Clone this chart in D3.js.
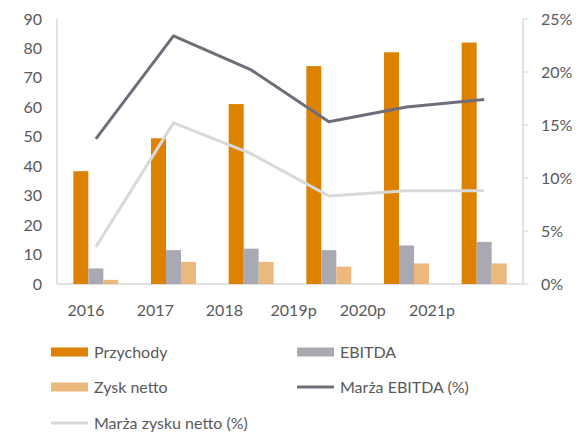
<!DOCTYPE html>
<html><head><meta charset="utf-8">
<script src="https://cdn.jsdelivr.net/npm/d3@7"></script>
<style>
html,body{margin:0;padding:0;background:#fff;}
text{font-family:Lato,"Open Sans",sans-serif;fill:#595959;}
</style></head>
<body><svg id="c" width="587" height="432"></svg>
<script>
const categories = ["2016","2017","2018","2019p","2020p","2021p"];
const przychody = [38.3, 49.5, 61.1, 74.0, 78.7, 82.0];
const ebitda = [5.3, 11.5, 12.0, 11.5, 13.1, 14.3];
const zysk = [1.4, 7.5, 7.5, 5.9, 7.0, 7.0];
const marzaEbitda = [13.7, 23.4, 20.2, 15.3, 16.7, 17.4];
const marzaZysku = [3.5, 15.2, 12.3, 8.3, 8.8, 8.8];
const leftTicks = [0,10,20,30,40,50,60,70,80,90];
const rightTicks = [0,5,10,15,20,25];
const barSeries = ["Przychody","EBITDA","Zysk netto"];

const colors = {Przychody:"#DD8100", EBITDA:"#A9A9B3", "Zysk netto":"#EBB97E",
  "Marża EBITDA (%)":"#6E6E7A", "Marża zysku netto (%)":"#D9D9D9"};

const svg = d3.select("#c");
const L = 57, R = 523, T = 19, B = 284;
const x = d3.scaleBand().domain(categories).range([L, R]).padding(0);
const xs = d3.scaleBand().domain(barSeries).range([0, 45]).padding(0);
const y = d3.scaleLinear().domain([0, 90]).range([B, T]);
const y2 = d3.scaleLinear().domain([0, 25]).range([B, T]);
const xLabel = d3.scalePoint().domain(categories).range([86, 432]);

// axes lines
const axisColor = "#D9D9D9";
svg.append("line").attr("x1", L).attr("x2", L).attr("y1", T).attr("y2", B).attr("stroke", axisColor).attr("stroke-width", 1.5);
svg.append("line").attr("x1", R).attr("x2", R).attr("y1", T).attr("y2", B).attr("stroke", axisColor).attr("stroke-width", 1.5);
svg.append("line").attr("x1", L).attr("x2", R).attr("y1", B).attr("y2", B).attr("stroke", axisColor).attr("stroke-width", 1.5);
// right axis tick marks
svg.selectAll(".rt").data(rightTicks).enter().append("line")
  .attr("x1", R).attr("x2", R + 5).attr("y1", d => y2(d)).attr("y2", d => y2(d))
  .attr("stroke", axisColor).attr("stroke-width", 1.2);

// left tick labels
svg.selectAll(".lt").data(leftTicks).enter().append("text")
  .attr("x", 42).attr("y", d => y(d)).attr("dy", "0.35em")
  .attr("text-anchor", "end").attr("font-size", 16).text(d => d);
// right tick labels
svg.selectAll(".rtl").data(rightTicks).enter().append("text")
  .attr("x", 541).attr("y", d => y2(d)).attr("dy", "0.35em")
  .attr("text-anchor", "start").attr("font-size", 16).text(d => d + "%");
// x labels
svg.selectAll(".xl").data(categories).enter().append("text")
  .attr("x", d => xLabel(d)).attr("y", 310).attr("dy", "0.35em")
  .attr("text-anchor", "middle").attr("font-size", 16).text(d => d);

// bars
const seriesData = {Przychody: przychody, EBITDA: ebitda, "Zysk netto": zysk};
barSeries.forEach(s => {
  svg.append("g").selectAll("rect").data(categories).enter().append("rect")
    .attr("x", d => x(d) + x.bandwidth()/2 - 22.5 + xs(s))
    .attr("width", xs.bandwidth())
    .attr("y", (d,i) => y(seriesData[s][i]))
    .attr("height", (d,i) => B - y(seriesData[s][i]))
    .attr("fill", colors[s]);
});

// lines
const lineGen = (arr) => d3.line().x((d,i) => x(categories[i]) + x.bandwidth()/2).y(d => y2(d))(arr);
svg.append("path").attr("d", lineGen(marzaZysku)).attr("fill","none")
  .attr("stroke", colors["Marża zysku netto (%)"]).attr("stroke-width", 3).attr("stroke-linejoin","round");
svg.append("path").attr("d", lineGen(marzaEbitda)).attr("fill","none")
  .attr("stroke", colors["Marża EBITDA (%)"]).attr("stroke-width", 3).attr("stroke-linejoin","round");

// legend
const legend = [
  {name:"Przychody", type:"rect", x:51, y:352},
  {name:"EBITDA", type:"rect", x:297, y:352},
  {name:"Zysk netto", type:"rect", x:51, y:387},
  {name:"Marża EBITDA (%)", type:"line", x:297, y:387},
  {name:"Marża zysku netto (%)", type:"line", x:51, y:423}
];
legend.forEach(l => {
  if (l.type === "rect") {
    svg.append("rect").attr("x", l.x).attr("y", l.y - 4.5).attr("width", 37).attr("height", 9).attr("fill", colors[l.name]);
  } else {
    svg.append("line").attr("x1", l.x).attr("x2", l.x + 37).attr("y1", l.y).attr("y2", l.y)
      .attr("stroke", colors[l.name]).attr("stroke-width", 3);
  }
  svg.append("text").attr("x", l.x + 43).attr("y", l.y).attr("dy", "0.35em").attr("font-size", 16).text(l.name);
});
</script></body></html>
